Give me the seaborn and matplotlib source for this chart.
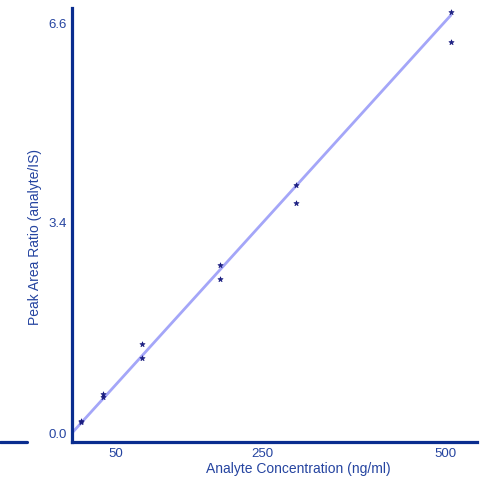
import numpy as np
import pandas as pd
import seaborn as sns
import matplotlib.pyplot as plt
from matplotlib.lines import Line2D

# calibration standards
conc = [2.5, 2.5, 33, 33, 86, 86, 192, 192, 297, 297, 508, 508]
ratio = [0.17, 0.19, 0.58, 0.63, 1.44, 1.21, 2.71, 2.48, 4.00, 3.71, 6.79, 6.31]

# fitted calibration line
fit_slope = 0.01302
fit_intercept = 0.125

x_ticks = [50, 250, 500]
y_ticks = [0.0, 3.4, 6.6]

navy = "#0a2d8f"
text_col = "#2544a0"

sns.set_theme(style="white")
plt.rcParams["font.family"] = ["Liberation Sans", "DejaVu Sans"]

df = pd.DataFrame({"conc": conc, "ratio": ratio})

fig = plt.figure(figsize=(4.93, 4.80), dpi=100)
ax = fig.add_axes([72 / 493, 1 - 442 / 480, 405 / 493, 434 / 480])

xlim = (-9.6, 543.7)
ylim = (-0.145, 6.855)

line_x = np.array([xlim[0], max(conc)])
line_y = fit_intercept + fit_slope * line_x
sns.lineplot(x=line_x, y=line_y, ax=ax, color="#9a9cf8", lw=2.0, alpha=0.9)
sns.scatterplot(data=df, x="conc", y="ratio", ax=ax, marker="*", s=15,
                color="#1a1d80", edgecolor="#1a1d80", linewidth=0.5, zorder=3)

ax.set_xlim(*xlim)
ax.set_ylim(*ylim)
ax.set_xticks(x_ticks)
ax.set_xticklabels([str(t) for t in x_ticks])
ax.set_yticks(y_ticks)
ax.set_yticklabels([f"{t:.1f}" for t in y_ticks])
ax.tick_params(length=0, labelsize=9.5, labelcolor=text_col, pad=4)
ax.set_xlabel("Analyte Concentration (ng/ml)", fontsize=10, color=text_col)
ax.set_ylabel("Peak Area Ratio (analyte/IS)", fontsize=10, color=text_col)
ax.xaxis.set_label_coords((298 - 72) / 405, -(462 - 442) / 434)
ax.yaxis.set_label_coords((42 - 72) / 405, (442 - 237) / 434)
ax.grid(False)

for side in ["top", "right"]:
    ax.spines[side].set_visible(False)
for side in ["left", "bottom"]:
    ax.spines[side].set_color(navy)
    ax.spines[side].set_linewidth(2.3)

# short stray rule at the far left, level with the x axis
fig.add_artist(Line2D([0, 27 / 493], [1 - 442 / 480] * 2, color=navy, lw=2.3))

fig.savefig("out.png", dpi=100)
